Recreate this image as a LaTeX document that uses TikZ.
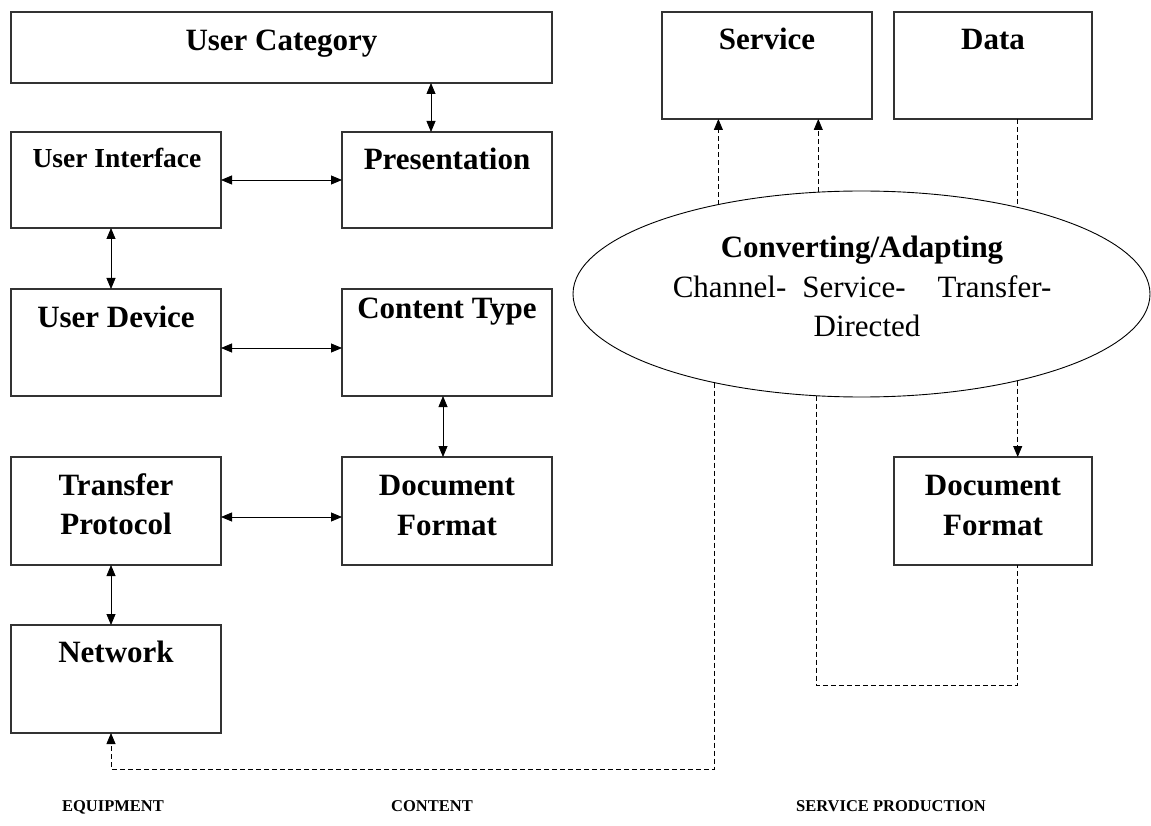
\documentclass[tikz,border=0pt]{standalone}
\usepackage{fontspec}
\setmainfont{Liberation Serif}
\usetikzlibrary{arrows.meta,shapes.geometric}

% rectangle node from its corners: name, left, top, right, bottom
\newcommand\mkbox[5]{%
  \node[box, minimum width={#4-#2}, minimum height={#5-#3}] (#1) at ({(#2+#4)/2},{(#3+#5)/2}) {};}

\begin{document}
\begin{tikzpicture}[x=1pt, y=-1pt,
  >={Triangle[length=11pt,width=9pt]},
  box/.style={draw=black!80, line width=1.1pt, inner sep=0pt, outer sep=0pt},
  lbl/.style={anchor=base, inner sep=0pt, font=\fontsize{31}{37}\selectfont\bfseries},
  smalllbl/.style={anchor=base, inner sep=0pt, font=\fontsize{27.5}{33}\selectfont\bfseries},
  plain/.style={anchor=base, inner sep=0pt, font=\fontsize{31}{37}\selectfont},
  foot/.style={anchor=base, inner sep=0pt, font=\fontsize{16.5}{20}\selectfont\bfseries},
  biarrow/.style={<->, line width=0.8pt},
  dline/.style={line width=0.8pt, dash pattern=on 5pt off 3pt},
]
\useasboundingbox (0,0) rectangle (1151,826);

% boxes
\mkbox{uc}{11}{12}{552}{83}
\mkbox{svc}{662}{12}{872}{119}
\mkbox{data}{894}{12}{1092}{119}
\mkbox{ui}{11}{132}{221}{228}
\mkbox{pres}{342}{132}{552}{228}
\mkbox{ud}{11}{289}{221}{396}
\mkbox{ct}{342}{289}{552}{396}
\mkbox{tp}{11}{457}{221}{565}
\mkbox{df}{342}{457}{552}{565}
\mkbox{net}{11}{625}{221}{733}
\mkbox{dfb}{894}{457}{1092}{565}

% box captions
\node[lbl] (uc-t) at (281.5,51) {User Category};
\node[lbl] (svc-t) at (767,50) {Service};
\node[lbl] (data-t) at (993,50) {Data};
\node[smalllbl] (ui-t) at (117,168) {User Interface};
\node[lbl] (pres-t) at (447,170) {Presentation};
\node[lbl] (ud-t) at (116,327) {User Device};
\node[lbl] (ct-t) at (447,318) {Content Type};
\node[lbl] (tp-t1) at (116,495) {Transfer};
\node[lbl] (tp-t2) at (116,534) {Protocol};
\node[lbl] (df-t1) at (447,495) {Document};
\node[lbl] (df-t2) at (447,535) {Format};
\node[lbl] (net-t) at (116,662) {Network};
\node[lbl] (dfb-t1) at (993,495) {Document};
\node[lbl] (dfb-t2) at (993,535) {Format};

% converting / adapting ellipse
\node[ellipse, draw, line width=0.9pt, inner sep=0pt, outer sep=0pt,
      minimum width=577pt, minimum height=206pt] (conv) at (861.5,294) {};
\node[lbl] (conv-t1) at (862,258) {Converting/Adapting};
\node[plain] (conv-t2) at (862,298) {Channel-\hspace{16pt}Service-\hspace{32pt}Transfer-};
\node[plain] (conv-t3) at (867,337) {Directed};

% column captions
\node[foot] (cap-eq) at (113,811) {EQUIPMENT};
\node[foot] (cap-co) at (432,811) {CONTENT};
\node[foot] (cap-sp) at (891,811) {SERVICE PRODUCTION};

% two-way links
\coordinate (a1) at ([xshift=-16pt]pres.north);
\draw[biarrow] (a1 |- uc.south) -- (a1);
\draw[biarrow] (ui.east) -- (pres.west);
\coordinate (a2) at ([xshift=-5pt]ui.south);
\draw[biarrow] (a2) -- (a2 |- ud.north);
\coordinate (a3) at ([yshift=-5.5pt]ud.east);
\draw[biarrow] (a3) -- (a3 -| ct.west);
\coordinate (a4) at ([xshift=-4pt]ct.south);
\draw[biarrow] (a4) -- (a4 |- df.north);
\coordinate (a5) at ([yshift=-6pt]tp.east);
\draw[biarrow] (a5) -- (a5 -| df.west);
\coordinate (a6) at ([xshift=-5pt]tp.south);
\draw[biarrow] (a6) -- (a6 |- net.north);

% dashed flows around the converter
\coordinate (lowrun) at (0,769);
\coordinate (midrun) at (0,685);
\draw[dline, ->] (conv.148.1) -- (conv.148.1 |- svc.south);
\draw[dline, ->] (conv.113.6) -- (conv.113.6 |- svc.south);
\draw[dline] (conv.29.4 |- data.south) -- (conv.29.4);
\draw[dline, ->] (conv.-29.4) -- (conv.-29.4 |- dfb.north);
\coordinate (a7) at ([xshift=-5pt]net.south);
\draw[dline, ->] (conv.211.7) -- (conv.211.7 |- lowrun) -| (a7);
\draw[dline] (conv.246.4) -- (conv.246.4 |- midrun) -| (conv.-29.4 |- dfb.south);
\end{tikzpicture}
\end{document}
